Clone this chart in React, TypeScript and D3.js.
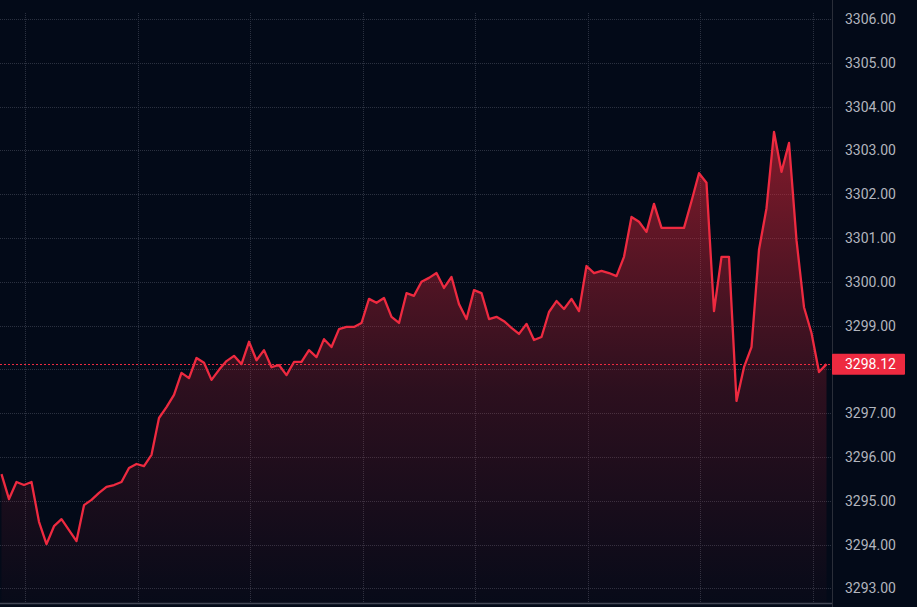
import React from "react";
import * as d3 from "d3";

const prices: number[] = [
  3295.61, 3295.04, 3295.43, 3295.36, 3295.43, 3294.52, 3294.01, 3294.42, 3294.58, 3294.33,
  3294.08, 3294.9, 3295.02, 3295.18, 3295.32, 3295.36, 3295.43, 3295.75, 3295.84, 3295.79,
  3296.05, 3296.89, 3297.14, 3297.42, 3297.92, 3297.8, 3298.26, 3298.15, 3297.76, 3297.99,
  3298.19, 3298.31, 3298.12, 3298.63, 3298.21, 3298.44, 3298.05, 3298.1, 3297.87, 3298.17,
  3298.17, 3298.44, 3298.28, 3298.69, 3298.51, 3298.92, 3298.97, 3298.97, 3299.06, 3299.61,
  3299.52, 3299.63, 3299.2, 3299.06, 3299.74, 3299.68, 3300.0, 3300.09, 3300.2, 3299.86,
  3300.11, 3299.49, 3299.15, 3299.81, 3299.74, 3299.15, 3299.2, 3299.1, 3298.95, 3298.81,
  3299.04, 3298.67, 3298.74, 3299.31, 3299.56, 3299.38, 3299.61, 3299.33, 3300.36, 3300.2,
  3300.25, 3300.2, 3300.13, 3300.57, 3301.48, 3301.37, 3301.14, 3301.78, 3301.23, 3301.23,
  3301.23, 3301.23, 3301.84, 3302.48, 3302.26, 3299.33, 3300.57, 3300.57, 3297.28, 3298.05,
  3298.51, 3300.73, 3301.68, 3303.42, 3302.51, 3303.17, 3300.95, 3299.42, 3298.83, 3297.94,
  3298.12,
];

const yTicks: number[] = [3293, 3294, 3295, 3296, 3297, 3298, 3299, 3300, 3301, 3302, 3303, 3304, 3305, 3306];
const hiddenTicks: number[] = [3298];
const xGridSlots: number[] = [0, 1, 2, 3, 4, 5, 6, 7];
const lastPriceLabel = "3298.12";

const W = 917;
const H = 607;
const PLOT_R = 832;
const PLOT_B = 603;
const RED = "#ee2a40";
const BG = "#030a18";

export default function App() {
  const x = d3.scaleLinear().domain([0, prices.length - 1]).range([1.5, 826.5]);
  const y = d3.scaleLinear().domain([3293, 3306]).range([588.4, 19]);
  const xg = d3.scaleLinear().domain([0, 7]).range([25, 812.5]);

  const line = d3
    .line<number>()
    .x((_, i) => x(i))
    .y((d) => y(d));
  const area = d3
    .area<number>()
    .x((_, i) => x(i))
    .y0(PLOT_B)
    .y1((d) => y(d));

  const last = prices[prices.length - 1];
  const maxV = d3.max(prices) as number;
  const fmt = d3.format(".2f");

  return (
    <svg
      width={W}
      height={H}
      style={{ position: "absolute", left: 0, top: 0, display: "block", background: BG }}
    >
      <defs>
        <linearGradient id="areaGrad" gradientUnits="userSpaceOnUse" x1={0} x2={0} y1={y(maxV)} y2={PLOT_B}>
          <stop offset="0%" stopColor="rgb(232,40,58)" stopOpacity={0.55} />
          <stop offset="55%" stopColor="rgb(232,40,58)" stopOpacity={0.18} />
          <stop offset="100%" stopColor="rgb(232,40,58)" stopOpacity={0.02} />
        </linearGradient>
        <clipPath id="plotClip">
          <rect x={0} y={0} width={PLOT_R} height={PLOT_B} />
        </clipPath>
      </defs>
      <rect x={0} y={0} width={W} height={H} fill={BG} />
      <g>
        {yTicks.map((t) => (
          <line
            key={"h" + t}
            x1={0}
            x2={PLOT_R}
            y1={Math.round(y(t)) + 0.5}
            y2={Math.round(y(t)) + 0.5}
            stroke="#2b3140"
            strokeWidth={1}
            strokeDasharray="1 1"
          />
        ))}
        {xGridSlots.map((s) => (
          <line
            key={"v" + s}
            x1={Math.round(xg(s)) + 0.5}
            x2={Math.round(xg(s)) + 0.5}
            y1={13}
            y2={PLOT_B}
            stroke="#2b3140"
            strokeWidth={1}
            strokeDasharray="1 1"
          />
        ))}
      </g>
      <g clipPath="url(#plotClip)">
        <path d={area(prices) || ""} fill="url(#areaGrad)" />
        <path d={line(prices) || ""} fill="none" stroke={RED} strokeWidth={2.3} strokeLinejoin="round" />
        <line
          x1={0}
          x2={PLOT_R}
          y1={Math.round(y(last)) + 0.5}
          y2={Math.round(y(last)) + 0.5}
          stroke={RED}
          strokeWidth={1}
          strokeDasharray="2 2"
        />
      </g>
      <line x1={PLOT_R + 0.5} x2={PLOT_R + 0.5} y1={0} y2={H} stroke="#2a2e39" strokeWidth={1} />
      <line x1={0} x2={PLOT_R} y1={PLOT_B + 0.5} y2={PLOT_B + 0.5} stroke="#434856" strokeWidth={1.5} />
      <g fontFamily="Roboto, 'Noto Sans', sans-serif" fontSize={14} fill="#b2b5be">
        {yTicks
          .filter((t) => !hiddenTicks.includes(t))
          .map((t) => (
            <text key={"t" + t} x={845} y={y(t)} dominantBaseline="central">
              {fmt(t)}
            </text>
          ))}
      </g>
      <rect x={PLOT_R} y={y(last) - 10.5} width={73} height={21} fill={RED} rx={1} />
      <text
        x={845}
        y={y(last)}
        dominantBaseline="central"
        fontFamily="Roboto, 'Noto Sans', sans-serif"
        fontSize={14}
        fill="#ffffff"
      >
        {lastPriceLabel}
      </text>
    </svg>
  );
}
